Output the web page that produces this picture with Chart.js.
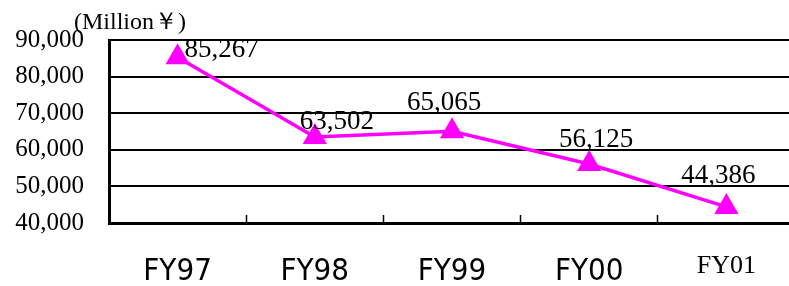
<!DOCTYPE html>
<html>
<head>
<meta charset="utf-8">
<script src="https://cdn.jsdelivr.net/npm/chart.js@4.4.0/dist/chart.umd.min.js"></script>
<style>
  html, body { margin: 0; padding: 0; background: #fff; overflow: hidden; }
  canvas { display: block; }
</style>
</head>
<body>
<canvas id="salesChart" width="809" height="286"></canvas>
<script>
const years = ['FY97', 'FY98', 'FY99', 'FY00', 'FY01'];
const sales = [85267, 63502, 65065, 56125, 44386];
const yTicks = [40000, 50000, 60000, 70000, 80000, 90000];

const SERIF = '"Liberation Serif", "Times New Roman", serif';
const SANS = '"DejaVu Sans Condensed", "DejaVu Sans", sans-serif';
const MAGENTA = '#FF00FF';

const fmt = (v) => v.toLocaleString('en-US');

// value labels above the points, nudged like the original
const valueLabels = {
  id: 'valueLabels',
  afterDatasetsDraw(chart, args, opts) {
    const { ctx } = chart;
    const meta = chart.getDatasetMeta(0);
    ctx.save();
    ctx.font = '27px ' + SERIF;
    ctx.fillStyle = '#000';
    ctx.textAlign = 'center';
    ctx.textBaseline = 'alphabetic';
    meta.data.forEach((pt, i) => {
      const n = opts.nudge[i] || [0, -12];
      ctx.fillText(fmt(sales[i]), pt.x + n[0], pt.y + n[1]);
    });
    ctx.restore();
  }
};

const unitLabel = {
  id: 'unitLabel',
  afterDraw(chart) {
    const { ctx, chartArea } = chart;
    ctx.save();
    ctx.font = '24px ' + SERIF;
    ctx.fillStyle = '#000';
    ctx.textAlign = 'left';
    ctx.textBaseline = 'alphabetic';
    ctx.fillText('(Million￥)', chartArea.left - 35, 29);
    ctx.restore();
  }
};

const ctx = document.getElementById('salesChart').getContext('2d');

new Chart(ctx, {
  type: 'line',
  data: {
    labels: years,
    datasets: [{
      data: sales,
      borderColor: MAGENTA,
      borderWidth: 3.5,
      backgroundColor: MAGENTA,
      pointStyle: 'triangle',
      pointRadius: 14,
      pointHoverRadius: 14,
      pointBorderWidth: 0,
      tension: 0,
      clip: false
    }]
  },
  options: {
    responsive: false,
    animation: false,
    layout: { padding: { top: 39, right: 0, bottom: 0, left: 0 } },
    plugins: {
      legend: { display: false },
      title: { display: false },
      tooltip: { enabled: false },
      valueLabels: {
        nudge: [[44, 0], [22, -8], [-8, -21], [7, -17], [-8, -24]]
      }
    },
    scales: {
      x: {
        offset: true,
        grid: {
          offset: true,
          drawOnChartArea: false,
          drawTicks: true,
          tickLength: -8,
          tickColor: '#000',
          tickWidth: 1.5
        },
        border: { display: true, color: '#000', width: 3 },
        ticks: {
          color: '#000',
          padding: 38,
          maxRotation: 0,
          autoSkip: false,
          font: (c) => c.index === 4
            ? { family: SERIF, size: 26, lineHeight: 1.0 }
            : { family: SANS, size: 31, lineHeight: 1.2 }
        },
        afterFit(scale) { scale.height = 63; }
      },
      y: {
        min: 40000,
        max: 90000,
        afterBuildTicks(scale) { scale.ticks = yTicks.map(v => ({ value: v })); },
        grid: {
          color: '#000',
          lineWidth: 2,
          drawTicks: false
        },
        border: { display: true, color: '#000', width: 3 },
        ticks: {
          color: '#000',
          padding: 25,
          font: { family: SERIF, size: 25 },
          callback: (v) => fmt(v)
        },
        afterFit(scale) { scale.width = 109; }
      }
    }
  },
  plugins: [valueLabels, unitLabel]
});
</script>
</body>
</html>
